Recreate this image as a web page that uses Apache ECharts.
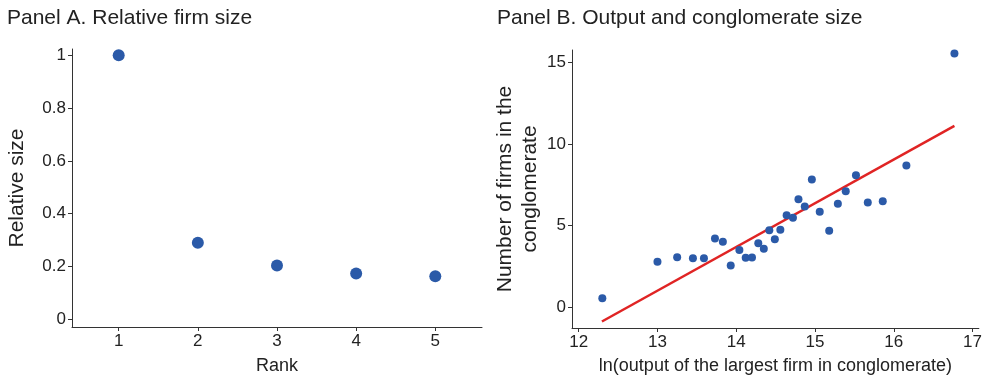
<!DOCTYPE html>
<html>
<head>
<meta charset="utf-8">
<script src="https://cdn.jsdelivr.net/npm/echarts@6/dist/echarts.min.js"></script>
<style>
  html, body { margin: 0; padding: 0; background: #fff; }
  #chart { width: 985px; height: 380px; }
</style>
</head>
<body>
<div id="chart"></div>
<script>
// Panel A: relative firm size by rank
const ranks = [1, 2, 3, 4, 5];
const relSize = [1.0, 0.289, 0.203, 0.173, 0.162];

// Panel B: ln(output of largest firm) vs number of firms
const lnOutput = [12.30, 13.00, 13.25, 13.45, 13.59, 13.73, 13.83, 13.93, 14.04, 14.12,
  14.20, 14.28, 14.35, 14.42, 14.49, 14.56, 14.64, 14.72, 14.79, 14.87,
  14.96, 15.06, 15.18, 15.29, 15.39, 15.52, 15.67, 15.86, 16.16, 16.77];
const nFirms = [0.55, 2.79, 3.07, 3.00, 3.00, 4.22, 4.02, 2.56, 3.51, 3.03,
  3.05, 3.92, 3.59, 4.72, 4.16, 4.75, 5.64, 5.49, 6.62, 6.18,
  7.82, 5.85, 4.68, 6.34, 7.11, 8.08, 6.42, 6.50, 8.68, 15.55];
// fitted line end points
const fitX = [12.295, 16.77];
const fitY = [-0.87, 11.11];

const ticksA_x = [1, 2, 3, 4, 5];
const ticksA_y = [0, 0.2, 0.4, 0.6, 0.8, 1];
const ticksB_x = [12, 13, 14, 15, 16, 17];
const ticksB_y = [0, 5, 10, 15];

const font = 'Liberation Sans, Arial, sans-serif';
const ink = '#222';
const dotColor = '#2b5aa8';

function valAxis(gridIndex, min, max, ticks, extra) {
  return Object.assign({
    type: 'value',
    gridIndex: gridIndex,
    min: min,
    max: max,
    splitLine: { show: false },
    axisLine: { show: true, onZero: false, lineStyle: { color: '#333', width: 1 } },
    axisTick: { show: true, inside: false, length: 4, lineStyle: { color: '#333' }, customValues: ticks },
    axisLabel: { color: ink, fontFamily: font, fontSize: 17, margin: 6, customValues: ticks },
    nameTextStyle: { color: ink, fontFamily: font, fontSize: 18 }
  }, extra || {});
}

const chart = echarts.init(document.getElementById('chart'));
chart.setOption({
  animation: false,
  title: [
    { text: 'Panel A. Relative firm size', left: 2, top: 3,
      textStyle: { color: ink, fontFamily: font, fontSize: 21, fontWeight: 'normal' } },
    { text: 'Panel B. Output and conglomerate size', left: 492, top: 3,
      textStyle: { color: ink, fontFamily: font, fontSize: 21, fontWeight: 'normal' } }
  ],
  grid: [
    { left: 72, top: 49, right: 503, bottom: 49 },
    { left: 572, top: 50, right: 2, bottom: 50 }
  ],
  xAxis: [
    valAxis(0, 0.41, 5.59, ticksA_x, { name: 'Rank', nameLocation: 'middle', nameGap: 30 }),
    valAxis(1, 11.915, 17.08, ticksB_x, { name: 'ln(output of the largest firm in conglomerate)', nameLocation: 'middle', nameGap: 29 })
  ],
  yAxis: [
    valAxis(0, -0.03, 1.024, ticksA_y, {
      name: 'Relative size', nameLocation: 'middle', nameGap: 44,
      nameTextStyle: { color: ink, fontFamily: font, fontSize: 21 }
    }),
    valAxis(1, -1.27, 15.76, ticksB_y, {
      name: 'Number of firms in the\nconglomerate', nameLocation: 'middle', nameGap: 28,
      nameTextStyle: { color: ink, fontFamily: font, fontSize: 21, lineHeight: 25 }
    })
  ],
  series: [
    {
      type: 'scatter', xAxisIndex: 0, yAxisIndex: 0,
      symbolSize: 12, itemStyle: { color: dotColor, opacity: 1 },
      data: ranks.map((r, i) => [r, relSize[i]])
    },
    {
      type: 'line', xAxisIndex: 1, yAxisIndex: 1,
      symbol: 'none', lineStyle: { color: '#e02424', width: 2.5 },
      data: fitX.map((x, i) => [x, fitY[i]]), z: 2
    },
    {
      type: 'scatter', xAxisIndex: 1, yAxisIndex: 1,
      symbolSize: 8, itemStyle: { color: dotColor, opacity: 1 },
      data: lnOutput.map((x, i) => [x, nFirms[i]]), z: 3
    }
  ]
});
</script>
</body>
</html>
